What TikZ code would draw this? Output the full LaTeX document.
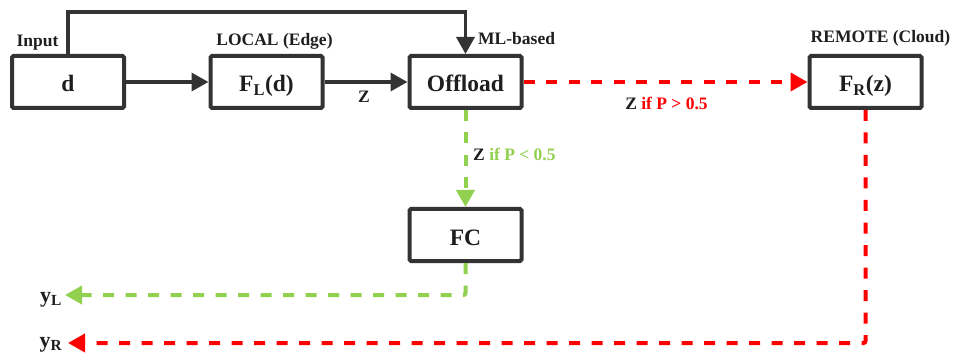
\documentclass[tikz,border=0pt]{standalone}
\usepackage{fontspec}
\setmainfont{Liberation Serif}
\usetikzlibrary{arrows.meta}
\definecolor{linegray}{HTML}{333333}
\definecolor{textgray}{HTML}{1E1E1E}
\definecolor{offred}{HTML}{FF0000}
\definecolor{offgreen}{HTML}{92D050}
\begin{document}
\begin{tikzpicture}[x=1pt,y=-1pt,
  every node/.style={text=textgray},
  block/.style={draw=linegray, line width=4pt, rounded corners=1.5pt,
    minimum width=112pt, minimum height=52pt, inner sep=0pt,
    font=\fontsize{23.5}{26}\selectfont\bfseries, text height=21pt, text depth=1pt},
  lbl/.style={anchor=base, inner sep=0pt, font=\fontsize{17.5}{20}\selectfont\bfseries},
  outlbl/.style={anchor=base, inner sep=0pt, font=\fontsize{22}{24}\selectfont\bfseries},
  solidarrow/.style={draw=linegray, line width=3.5pt, -{Triangle[length=17pt,width=18pt]}},
  dashred/.style={draw=offred, line width=4pt, dash pattern=on 11pt off 11.5pt,
    -{Triangle[length=17pt,width=18pt]}},
  dashgreen/.style={draw=offgreen, line width=4pt, dash pattern=on 11pt off 11.5pt,
    -{Triangle[length=17pt,width=18pt]}}
]
\useasboundingbox (0,0) rectangle (958,358);

% processing blocks
\node[block] (d)   at (68,82)    {d};
\node[block] (fl)  at (266.5,82) {F\textsubscript{L}(d)};
\node[block] (off) at (465.5,82) {Offload};
\node[block] (fr)  at (865.5,82) {F\textsubscript{R}(z)};
\node[block] (fc)  at (465.5,235) {FC};

% captions
\node[lbl] (input)  at (37.5,47)  {Input};
\node[lbl] (local)  at (274.5,46) {LOCAL (Edge)};
\node[lbl, anchor=base west] (ml) at (478,45) {ML-based};
\node[lbl] (remote) at (880.5,43) {REMOTE (Cloud)};
\node[lbl] (z)      at (364,103)  {Z};
\node[lbl] (zred)   at (666.5,110) {Z \textcolor{offred}{if P > 0.5}};
\node[lbl, anchor=base west] (zgreen) at (473,161) {Z \textcolor{offgreen}{if P < 0.5}};
\node[outlbl] (yl) at (51,302) {y\textsubscript{L}};
\node[outlbl] (yr) at (51,347) {y\textsubscript{R}};

% local path
\coordinate (top) at (0,12);
\draw[solidarrow] (d.north) -- (d.north |- top) -| (off.north);
\draw[solidarrow] (d) -- (fl);
\draw[solidarrow] (fl) -- (off);

% offloading decisions
\draw[dashred] (off) -- (fr);
\draw[dashgreen] (off) -- (fc);

% outputs
\coordinate (yltip) at (65,295);
\coordinate (yrtip) at (68,343);
\draw[dashgreen, rounded corners=2pt] (fc.south) |- (yltip);
\draw[dashred, rounded corners=2pt] (fr.south) |- (yrtip);
\end{tikzpicture}
\end{document}
